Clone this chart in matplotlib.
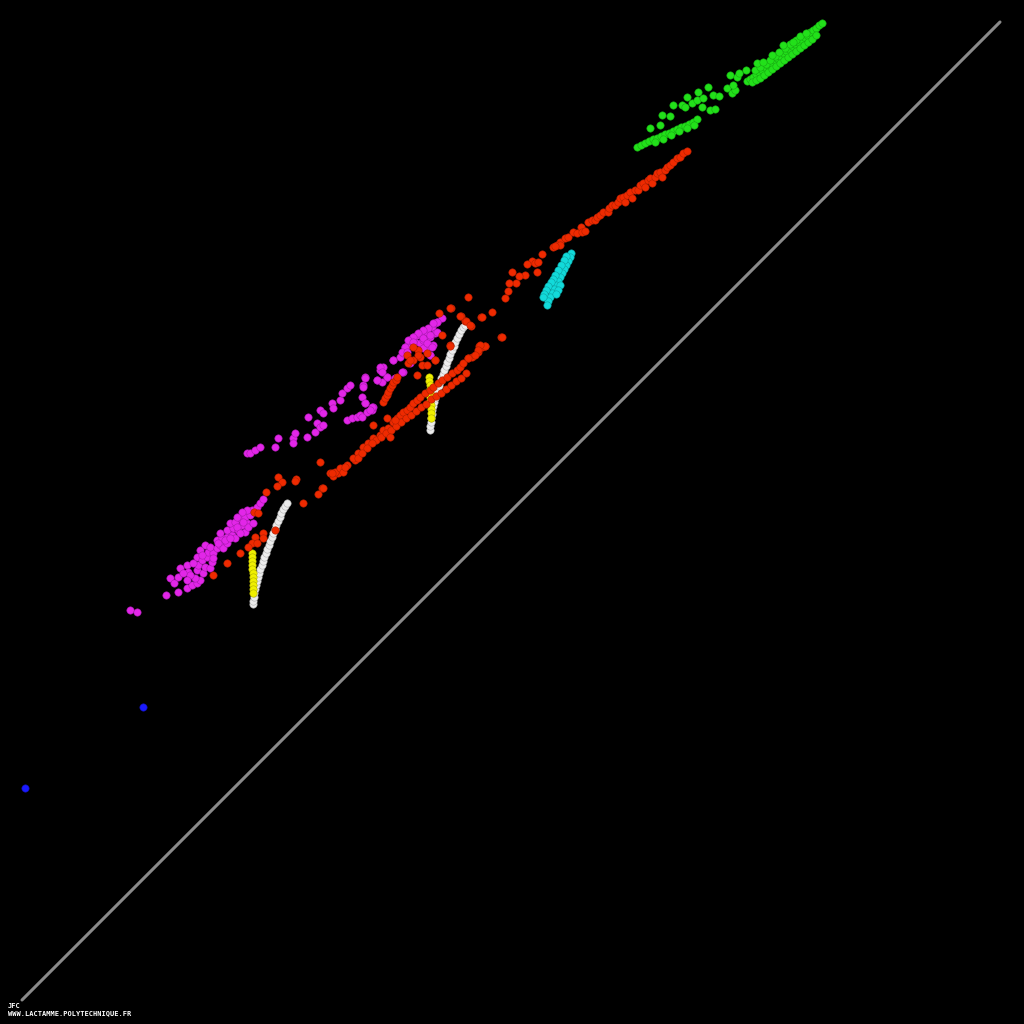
import matplotlib
matplotlib.use("Agg")
import matplotlib.pyplot as plt

# values (x, y in picture units; y grows downward)
green_x = [637, 641, 645, 649, 653, 657, 661, 665, 669, 673, 677, 681, 685, 689, 693, 697, 655, 663, 671, 679, 687, 694,
           650, 660, 662, 670, 673, 682, 687, 685, 692, 697, 698, 703, 702, 708, 710, 715, 713, 719, 727, 730, 732, 735, 733, 737, 739, 746,
           747, 750, 753, 756, 759, 762, 765, 768, 771, 774, 777, 780, 783, 786, 789, 792, 795, 798, 801, 804, 807, 810, 813, 816, 819, 822,
           752, 756, 760, 764, 768, 772, 776, 780, 784, 788, 792, 796, 800, 804, 808, 812, 816,
           755, 760, 766, 770, 775, 779, 785, 790, 796, 800, 806, 757, 763, 772, 783, 793]
green_y = [147, 145, 143, 141, 139, 138, 136, 134, 133, 131, 129, 127, 126, 124, 122, 119, 142, 139, 135, 131, 128, 125,
           128, 125, 115, 116, 105, 105, 97, 107, 103, 100, 92, 98, 107, 87, 110, 109, 95, 96, 88, 75, 93, 90, 85, 77, 73, 70,
           81, 79, 77, 74, 72, 70, 67, 65, 63, 60, 58, 56, 53, 51, 49, 46, 44, 42, 39, 37, 35, 32, 30, 28, 25, 23,
           82, 80, 78, 75, 72, 69, 66, 63, 60, 57, 54, 51, 48, 45, 42, 39, 35,
           70, 67, 64, 60, 56, 52, 48, 44, 40, 36, 33, 63, 62, 55, 45, 42]

red_x = [560, 565, 568, 573, 577, 581, 582, 585, 588, 592, 595, 597, 600, 603, 608, 609, 612, 615, 618, 620, 623, 625, 627, 630,
         632, 635, 638, 640, 643, 645, 648, 650, 652, 655, 657, 660, 662, 665, 667, 670, 673, 677, 680, 683, 687, 557, 553,
         560, 555, 542, 532, 527, 535, 538, 537, 525, 519, 512, 516, 509, 508, 505, 492, 481, 468, 451, 461, 465, 471, 501, 479, 485,
         330, 333, 338, 343, 347, 355, 358, 363, 368, 373, 380, 383, 388, 393, 397, 400, 403, 407, 410, 413, 417, 420, 425, 430, 433,
         438, 442, 447, 452, 457, 460, 463, 468, 472, 478, 482, 485,
         376, 381, 386, 391, 396, 401, 406, 411, 416, 421, 426, 431, 436, 441, 446, 451, 456, 461, 466,
         335, 340, 343, 345, 353, 358, 362, 367, 372, 390, 395, 387,
         383, 385, 387, 388, 390, 392, 393, 396, 397, 407, 413, 420, 427,
         417, 408, 422, 435, 418, 450,
         320, 322, 318, 303, 332, 296, 278, 282, 277, 323, 266, 254, 258, 275, 263, 255, 252, 257, 248, 240, 227, 213, 263, 295,
         450, 439, 460, 466, 470, 482, 502, 442, 450, 435, 480, 478, 475, 468,
         413, 418, 410, 427, 373]
red_y = [242, 238, 237, 232, 233, 227, 232, 231, 222, 220, 220, 217, 215, 212, 212, 208, 205, 205, 202, 198, 197, 202, 195, 192,
         198, 190, 190, 185, 183, 187, 180, 178, 183, 177, 173, 172, 177, 170, 167, 165, 162, 158, 157, 153, 151, 245, 247,
         245, 246, 254, 261, 264, 263, 262, 272, 275, 276, 272, 283, 283, 291, 298, 312, 317, 297, 308, 316, 321, 326, 337, 346, 346,
         473, 476, 473, 468, 465, 460, 453, 447, 443, 438, 435, 430, 428, 422, 418, 415, 412, 410, 407, 403, 400, 397, 393, 390, 387,
         383, 380, 377, 373, 370, 367, 363, 358, 357, 352, 347, 346,
         440, 437, 433, 430, 426, 422, 418, 415, 411, 407, 404, 399, 396, 393, 389, 385, 381, 378, 373,
         472, 468, 472, 467, 458, 458, 453, 448, 443, 437, 420, 418,
         402, 398, 395, 392, 388, 385, 382, 380, 377, 355, 360, 357, 353,
         375, 363, 365, 360, 350, 345,
         462, 488, 494, 503, 473, 479, 477, 482, 486, 488, 492, 512, 513, 530, 533, 537, 543, 543, 547, 553, 563, 575, 538, 481,
         308, 313, 316, 321, 325, 317, 337, 335, 346, 360, 345, 350, 355, 358,
         347, 355, 360, 365, 425]

magenta_x = [130, 137, 166, 178, 187, 192, 197, 200, 195, 170, 174, 178, 180, 187, 188, 190, 197, 198, 203, 205, 210, 197, 202, 207,
             212, 208, 213, 205, 200, 210, 217, 220, 223, 227, 217, 222, 227, 232, 235, 220, 227, 233, 238, 242, 247, 230, 235, 240,
             245, 250, 252, 257, 260, 263, 247, 242, 237, 245, 248, 183, 187, 193, 202, 213, 218, 225, 230, 237, 240, 243, 253,
             247, 250, 255, 260, 275, 278, 293, 293, 295, 307, 308, 315, 317, 320, 323, 320, 323, 332, 333, 340, 342, 347, 350, 347,
             352, 357, 360, 362, 365, 363, 367, 365, 372, 373, 377, 382, 380, 383, 387, 393, 395, 403, 400, 403, 405, 408, 410, 413,
             417, 422, 427, 432, 435, 437, 415, 420, 423, 430, 433, 428, 423, 430, 435, 410,
             442, 437, 433, 428, 423, 418, 413, 408, 405, 402, 407, 413, 423, 430, 427, 432, 430, 437, 393, 380, 382, 365, 377, 387,
             395, 402, 363, 365, 372, 370, 362]
magenta_y = [610, 612, 595, 592, 588, 585, 583, 580, 578, 578, 583, 577, 568, 565, 572, 575, 570, 565, 573, 567, 568, 557, 560, 557,
             562, 552, 553, 545, 550, 547, 548, 545, 548, 543, 540, 538, 537, 535, 538, 533, 530, 528, 530, 525, 523, 523, 522, 518,
             517, 515, 510, 507, 503, 499, 510, 512, 517, 532, 527, 573, 580, 563, 555, 558, 543, 540, 538, 527, 533, 522, 523,
             453, 453, 450, 447, 447, 438, 438, 443, 433, 437, 417, 432, 423, 427, 425, 410, 413, 403, 408, 400, 393, 388, 385, 420,
             418, 417, 415, 397, 377, 385, 412, 403, 410, 407, 380, 382, 370, 367, 377, 360, 378, 372, 357, 353, 347, 345, 340, 337,
             335, 333, 332, 327, 323, 322, 342, 343, 340, 337, 345, 347, 348, 355, 333, 363,
             318, 322, 323, 328, 330, 333, 337, 340, 347, 352, 352, 342, 338, 335, 343, 347, 355, 332, 360, 367, 372, 378, 380, 377,
             378, 372, 387, 403, 407, 410, 417]

cyan_x = [571, 570, 568, 566, 564, 562, 560, 558, 556, 554, 552, 550, 548, 547,
          566, 564, 561, 558, 555, 553, 551, 548, 546, 544, 543, 560, 558, 556]
cyan_y = [253, 257, 261, 265, 269, 273, 277, 281, 285, 289, 293, 297, 301, 305,
          256, 260, 265, 270, 275, 279, 282, 286, 290, 294, 297, 285, 290, 294]

white_x = [253, 253, 254, 254, 255, 256, 257, 258, 259, 260, 262, 263, 264, 266, 267, 269, 270, 272, 273, 275, 276, 278, 280, 281, 283, 285, 287,
           430, 430, 431, 431, 432, 432, 433, 434, 435, 436, 437, 439, 440, 441, 443, 444, 446, 447, 449, 450, 452, 454, 455, 457, 459, 461, 463, 465]
white_y = [604, 601, 597, 593, 589, 585, 581, 577, 573, 569, 565, 561, 557, 553, 549, 545, 541, 537, 533, 529, 525, 521, 517, 513, 509, 506, 503,
           430, 426, 422, 418, 414, 410, 406, 402, 398, 394, 390, 386, 382, 378, 374, 370, 366, 362, 358, 354, 350, 346, 342, 338, 334, 330, 327, 325]

yellow_x = [252, 252, 252, 252, 252, 253, 253, 253, 253, 253, 253,
            429, 429, 430, 430, 430, 430, 430, 431, 431, 431, 431]
yellow_y = [553, 557, 561, 565, 569, 573, 577, 581, 585, 589, 593,
            377, 381, 385, 389, 393, 397, 401, 405, 409, 413, 418]

blue_x = [143, 25]
blue_y = [707, 788]

diag_x = [22, 1000]
diag_y = [1000, 22]

fig = plt.figure(figsize=(10.24, 10.24), dpi=100, facecolor="black")
ax = fig.add_axes([0, 0, 1, 1])
ax.set_facecolor("black")
ax.set_xlim(0, 1024)
ax.set_ylim(1024, 0)
ax.axis("off")

ax.plot(diag_x, diag_y, color="#8a8a8a", lw=2.2, solid_capstyle="round", zorder=1)

def dots(x, y, face, edge, z):
    ax.scatter(x, y, s=28, c=face, edgecolors=edge, linewidths=0.4, zorder=z)

dots(green_x, green_y, "#22e01a", "#17a812", 2)
dots(magenta_x, magenta_y, "#e226e8", "#a81cae", 3)
dots(white_x, white_y, "#ececec", "#b0b0b0", 4)
dots(yellow_x, yellow_y, "#f0f000", "#b0b000", 5)
dots(red_x, red_y, "#ee2a00", "#b01f00", 6)
dots(cyan_x, cyan_y, "#12dada", "#0ca0a0", 7)
dots(blue_x, blue_y, "#1a1aff", "#1212b0", 8)

ax.text(8, 1006, "JFC", color="white", fontsize=5, family="DejaVu Sans Mono",
        fontweight="bold", va="center", ha="left")
ax.text(8, 1013, "WWW.LACTAMME.POLYTECHNIQUE.FR", color="white", fontsize=5,
        family="DejaVu Sans Mono", fontweight="bold", va="center", ha="left")

fig.savefig("out.png", dpi=100, facecolor="black")
